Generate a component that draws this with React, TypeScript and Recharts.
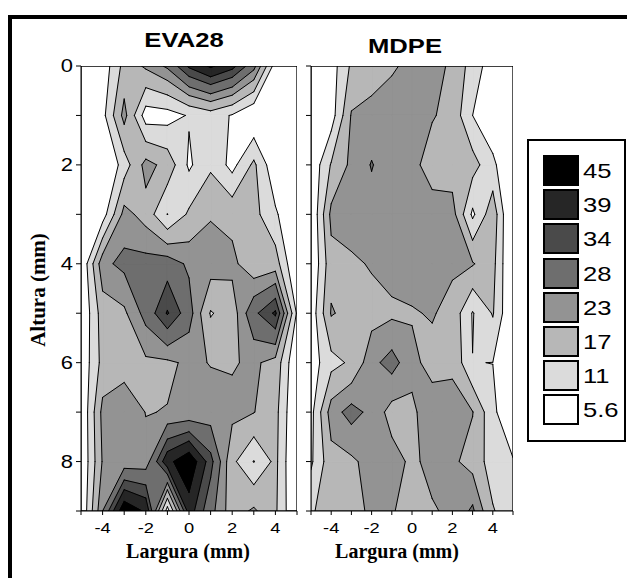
import React from "react";
import { ScatterChart, Scatter, XAxis, YAxis } from "recharts";

// grid nodes (mm)
const xNodes = [-5, -4, -3, -2, -1, 0, 1, 2, 3, 4, 5];
const yNodes = [0, 1, 2, 3, 4, 5, 6, 7, 8, 9];

// contour levels and their fills
const levels = [11, 17, 23, 28, 34, 39, 45];
const levelColors = ["#dbdbdb", "#b7b7b7", "#939393", "#6e6e6e", "#4a4a4a", "#262626", "#000000"];

const legendLabels = ["45", "39", "34", "28", "23", "17", "11", "5.6"];
const legendColors = ["#000000", "#262626", "#4a4a4a", "#6e6e6e", "#939393", "#b7b7b7", "#dbdbdb", "#ffffff"];

// rows = altura 0..9, columns = largura -5..5
const eva28: number[][] = [
  [4, 7, 19, 24, 29, 40, 46, 41, 30, 8, 3],
  [3, 9, 25, 8, 8.5, 11.5, 14, 10.5, 5, 5, 3],
  [2, 3, 14, 25, 21, 10, 16, 9, 18.3, 6, 2],
  [2, 8, 25, 20.7, 10.9, 18, 22.5, 21.3, 19, 12, 4],
  [5, 26.7, 29.4, 30, 31, 27, 26, 24.5, 19, 20, 4],
  [5, 20, 22, 30, 39.5, 30.5, 16.5, 20, 32.5, 40, 10],
  [6, 19, 20, 22, 22, 24, 22.8, 22.5, 24, 21, 5],
  [5, 24.7, 27.5, 22.8, 23.2, 23.5, 25, 24.5, 23.2, 19, 4],
  [5, 23.5, 24.5, 25, 43, 50, 36, 18.5, 10.8, 18.6, 3],
  [5, 28, 50, 44, 8, 42, 30, 20, 24, 18, 4],
];

const mdpe: number[][] = [
  [5, 8, 18, 20, 22.5, 24, 24, 22.5, 14, 8, 4],
  [4, 8, 23.5, 25, 25, 25, 23.5, 21, 11, 6, 3],
  [6, 17.5, 24.4, 28.3, 25, 25, 20, 20, 19.5, 12.5, 4],
  [5, 24.5, 26, 26, 26, 26, 26, 25.4, 9.8, 21, 2],
  [5, 21, 22, 23.5, 25, 26, 26, 24, 23.5, 19, 3],
  [7, 23.5, 21, 21, 22, 22.5, 23.5, 21, 10.6, 17.5, 4],
  [8, 15, 18, 26.5, 30.1, 24.5, 21, 22, 11.1, 10.95, 5],
  [9, 25.7, 30, 26.5, 21, 22, 26, 25, 23.2, 12.5, 5],
  [10, 21, 22, 25, 25, 22, 24.5, 24, 21, 14, 11.5],
  [16, 21, 21, 24, 23.3, 21.5, 22.5, 24, 29, 17.5, 13],
];

const frameCorners = [
  { x: -5, y: 0 },
  { x: 5, y: 0 },
  { x: 5, y: 9 },
  { x: -5, y: 9 },
];

const SANS = "'Liberation Sans', Arial, sans-serif";
const SERIF = "'Liberation Serif', 'Times New Roman', serif";
const WIDEN = 1.22;

type Pt = { x: number; y: number };

// marching squares: filled region z >= level per cell, plus iso segments
function contour(grid: number[][]) {
  const fills: Pt[][][] = levels.map(() => []);
  const segments: Pt[][] = [];
  for (let j = 0; j < yNodes.length - 1; j++) {
    for (let i = 0; i < xNodes.length - 1; i++) {
      const c: Pt[] = [
        { x: xNodes[i], y: yNodes[j] },
        { x: xNodes[i + 1], y: yNodes[j] },
        { x: xNodes[i + 1], y: yNodes[j + 1] },
        { x: xNodes[i], y: yNodes[j + 1] },
      ];
      const v = [grid[j][i], grid[j][i + 1], grid[j + 1][i + 1], grid[j + 1][i]];
      const mid = (v[0] + v[1] + v[2] + v[3]) / 4;
      levels.forEach((lv, k) => {
        const up = v.map((z) => z >= lv);
        const n = up.filter(Boolean).length;
        if (n === 0) return;
        if (n === 4) {
          fills[k].push(c);
          return;
        }
        const cross = (a: number): Pt => {
          const b = (a + 1) % 4;
          const t = (lv - v[a]) / (v[b] - v[a]);
          return { x: c[a].x + t * (c[b].x - c[a].x), y: c[a].y + t * (c[b].y - c[a].y) };
        };
        const saddle = n === 2 && up[0] === up[2];
        if (saddle && mid < lv) {
          for (let a = 0; a < 4; a++) {
            if (!up[a]) continue;
            const p = (a + 3) % 4;
            fills[k].push([cross(p), c[a], cross(a)]);
            segments.push([cross(p), cross(a)]);
          }
          return;
        }
        const poly: Pt[] = [];
        for (let a = 0; a < 4; a++) {
          if (up[a]) poly.push(c[a]);
          if (up[a] !== up[(a + 1) % 4]) poly.push(cross(a));
        }
        fills[k].push(poly);
        if (saddle) {
          for (let a = 0; a < 4; a++) {
            if (up[a]) continue;
            const p = (a + 3) % 4;
            segments.push([cross(p), cross(a)]);
          }
        } else {
          const pts = [0, 1, 2, 3].filter((a) => up[a] !== up[(a + 1) % 4]).map(cross);
          segments.push([pts[0], pts[1]]);
        }
      });
    }
  }
  return { fills, segments };
}

function pathFrom(points: Pt[] | undefined, sizes: number[], close: boolean) {
  if (!points) return "";
  let d = "";
  let idx = 0;
  sizes.forEach((n) => {
    const seg = points.slice(idx, idx + n);
    idx += n;
    if (seg.length < 2) return;
    d += "M" + seg.map((p) => `${p.x.toFixed(2)},${p.y.toFixed(2)}`).join("L") + (close ? "Z" : "");
  });
  return d;
}

const noDot = () => <g />;
const xFmt = (v: number) => (v % 2 === 0 && Math.abs(v) < 5 ? String(v) : "");
const yFmt = (v: number) => (v % 2 === 0 ? String(v) : "");

// tick label drawn a little wider than the stock font
function WideTick(props: any) {
  const { x, y, payload, fmt, size, anchor, dy } = props;
  const label = fmt(payload.value);
  if (!label) return <g />;
  return (
    <text
      transform={`translate(${x},${y}) scale(${WIDEN},1)`}
      textAnchor={anchor}
      dy={dy}
      fontSize={size}
      fontFamily={SANS}
      fill="#000"
    >
      {label}
    </text>
  );
}

function ContourPanel({
  grid,
  width,
  margin,
  yLabels,
}: {
  grid: number[][];
  width: number;
  margin: { top: number; right: number; bottom: number; left: number };
  yLabels: boolean;
}) {
  const { fills, segments } = React.useMemo(() => contour(grid), [grid]);
  return (
    <ScatterChart width={width} height={560} margin={margin}>
      <XAxis
        type="number"
        dataKey="x"
        domain={[-5, 5]}
        ticks={xNodes}
        interval={0}
        height={30}
        tickSize={4}
        tickMargin={7}
        stroke="#000"
        tick={(p: any) => <WideTick {...p} fmt={xFmt} size={15} anchor="middle" dy="0.71em" />}
        allowDataOverflow
      />
      <YAxis
        type="number"
        dataKey="y"
        domain={[0, 9]}
        reversed
        ticks={yNodes}
        interval={0}
        width={30}
        tickSize={5}
        tickMargin={3}
        stroke="#000"
        tick={(p: any) => (
          <WideTick {...p} fmt={yLabels ? yFmt : () => ""} size={18} anchor="end" dy="0.355em" />
        )}
        allowDataOverflow
      />
      {fills.map((polys, k) =>
        polys.length ? (
          <Scatter
            key={`band-${k}`}
            name={`band-${k}`}
            data={polys.flat()}
            shape={noDot}
            isAnimationActive={false}
            line={(p: { points?: Pt[] }) => (
              <path
                d={pathFrom(p.points, polys.map((q) => q.length), true)}
                fill={levelColors[k]}
                stroke={levelColors[k]}
                strokeWidth={0.7}
                strokeLinejoin="round"
              />
            )}
          />
        ) : null
      )}
      <Scatter
        name="isolines"
        data={segments.flat()}
        shape={noDot}
        isAnimationActive={false}
        line={(p: { points?: Pt[] }) => (
          <path
            d={pathFrom(p.points, segments.map(() => 2), false)}
            fill="none"
            stroke="#000"
            strokeWidth={1}
            strokeLinecap="round"
          />
        )}
      />
      <Scatter
        name="frame"
        data={frameCorners}
        shape={noDot}
        isAnimationActive={false}
        line={(p: { points?: Pt[] }) => (
          <path d={pathFrom(p.points, [4], true)} fill="none" stroke="#000" strokeWidth={1.3} />
        )}
      />
    </ScatterChart>
  );
}

const titleStyle: React.CSSProperties = {
  position: "absolute",
  width: 200,
  textAlign: "center",
  font: `bold 21px/22px ${SANS}`,
  transform: `scaleX(${WIDEN})`,
};

const axisTitleStyle: React.CSSProperties = {
  position: "absolute",
  width: 200,
  textAlign: "center",
  font: `bold 20px/22px ${SERIF}`,
};

export default function App() {
  return (
    <div
      style={{
        position: "relative",
        width: 627,
        height: 570,
        overflow: "hidden",
        background: "#fff",
      }}
    >
      <div
        style={{
          position: "absolute",
          left: 0,
          top: 7,
          width: 700,
          height: 700,
          borderLeft: "4px solid #000",
          borderTop: "4px solid #000",
        }}
      />

      <div style={{ position: "absolute", left: 0, top: 0 }}>
        <ContourPanel grid={eva28} width={310} margin={{ top: 58, right: 21, bottom: 27, left: 43 }} yLabels />
      </div>
      <div style={{ position: "absolute", left: 270, top: 0 }}>
        <ContourPanel grid={mdpe} width={250} margin={{ top: 58, right: 15, bottom: 27, left: 3 }} yLabels={false} />
      </div>

      <div style={{ ...titleStyle, left: 76, top: 21 }}>EVA28</div>
      <div style={{ ...titleStyle, left: 297, top: 27 }}>MDPE</div>

      <div style={{ ...axisTitleStyle, left: 80, top: 532 }}>Largura (mm)</div>
      <div style={{ ...axisTitleStyle, left: 289, top: 532 }}>Largura (mm)</div>
      <div
        style={{
          position: "absolute",
          left: -40,
          top: 271,
          width: 140,
          textAlign: "center",
          font: `bold 21px/22px ${SERIF}`,
          transform: "rotate(-90deg)",
        }}
      >
        Altura (mm)
      </div>

      <div
        style={{
          position: "absolute",
          left: 519,
          top: 131,
          width: 99,
          height: 303,
          border: "2px solid #000",
          boxSizing: "border-box",
        }}
      >
        {legendLabels.map((lab, i) => (
          <React.Fragment key={lab}>
            <div
              style={{
                position: "absolute",
                left: 14,
                top: 14 + i * 34.2,
                width: 36,
                height: 31,
                border: "2px solid #000",
                boxSizing: "border-box",
                background: legendColors[i],
              }}
            />
            <div
              style={{
                position: "absolute",
                left: 54,
                top: 14 + i * 34.2,
                height: 31,
                font: `21px/31px ${SANS}`,
                color: "#000",
                transform: `scaleX(${WIDEN})`,
                transformOrigin: "left center",
              }}
            >
              {lab}
            </div>
          </React.Fragment>
        ))}
      </div>
    </div>
  );
}
